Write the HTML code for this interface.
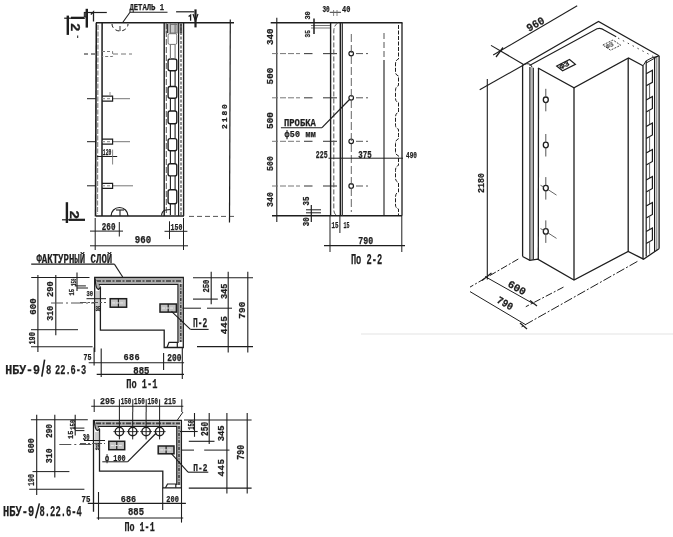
<!DOCTYPE html><html><head><meta charset="utf-8"><style>
html,body{margin:0;padding:0;background:#fff;}
svg{display:block;will-change:transform;}
text{font-family:"Liberation Mono",monospace;fill:#1e1e1e;stroke:#1e1e1e;stroke-width:0.25px;}
</style></head><body>
<svg width="673" height="537" viewBox="0 0 673 537">
<rect width="673" height="537" fill="#fff"/>
<line x1="96" y1="22.8" x2="234" y2="22.8" stroke="#1e1e1e" stroke-width="1.4"/>
<line x1="96.3" y1="22.8" x2="95.5" y2="216.5" stroke="#1e1e1e" stroke-width="1.6"/>
<line x1="98" y1="25" x2="97.5" y2="214" stroke="#888" stroke-width="1.2" stroke-dasharray="5,1.5"/>
<line x1="102.1" y1="22.8" x2="102" y2="216" stroke="#1e1e1e" stroke-width="1.5"/>
<line x1="96" y1="216" x2="184" y2="216" stroke="#1e1e1e" stroke-width="1.4"/>
<line x1="189" y1="216.4" x2="235.3" y2="216.4" stroke="#555" stroke-width="1.0" stroke-dasharray="5,3"/>
<line x1="164.2" y1="23" x2="164.2" y2="216" stroke="#1e1e1e" stroke-width="1.4"/>
<line x1="166.3" y1="23" x2="166.3" y2="216" stroke="#555" stroke-width="1.0" stroke-dasharray="6,2"/>
<line x1="178.6" y1="23" x2="178.6" y2="216" stroke="#1e1e1e" stroke-width="1.2"/>
<line x1="181" y1="23" x2="181" y2="216" stroke="#444" stroke-width="1.2" stroke-dasharray="3,1.5"/>
<line x1="183.6" y1="23" x2="183.6" y2="216" stroke="#1e1e1e" stroke-width="1.4"/>
<rect x="168.1" y="33.7" width="8.7" height="10.699999999999996" rx="1.5" stroke="#777" stroke-width="1.0" fill="none"/>
<rect x="168.1" y="59" width="8.7" height="11.799999999999997" rx="2" stroke="#1e1e1e" stroke-width="1.4" fill="none"/>
<rect x="168.1" y="86.5" width="8.7" height="11.700000000000003" rx="2" stroke="#1e1e1e" stroke-width="1.4" fill="none"/>
<rect x="168.1" y="111" width="8.7" height="12.700000000000003" rx="2" stroke="#1e1e1e" stroke-width="1.4" fill="none"/>
<rect x="168.1" y="138.6" width="8.7" height="12.099999999999994" rx="2" stroke="#1e1e1e" stroke-width="1.4" fill="none"/>
<rect x="168.1" y="163.8" width="8.7" height="12.099999999999994" rx="2" stroke="#1e1e1e" stroke-width="1.4" fill="none"/>
<rect x="168.1" y="189.8" width="8.7" height="14.0" rx="2" stroke="#1e1e1e" stroke-width="1.4" fill="none"/>
<line x1="170.4" y1="23" x2="170.4" y2="33.7" stroke="#777" stroke-width="1.1"/>
<line x1="175.1" y1="23" x2="175.1" y2="33.7" stroke="#777" stroke-width="1.1"/>
<line x1="170.4" y1="44.4" x2="170.4" y2="59" stroke="#777" stroke-width="1.1"/>
<line x1="175.1" y1="44.4" x2="175.1" y2="59" stroke="#777" stroke-width="1.1"/>
<line x1="170.4" y1="70.8" x2="170.4" y2="86.5" stroke="#1e1e1e" stroke-width="1.1"/>
<line x1="175.1" y1="70.8" x2="175.1" y2="86.5" stroke="#1e1e1e" stroke-width="1.1"/>
<line x1="170.4" y1="98.2" x2="170.4" y2="111" stroke="#1e1e1e" stroke-width="1.1"/>
<line x1="175.1" y1="98.2" x2="175.1" y2="111" stroke="#1e1e1e" stroke-width="1.1"/>
<line x1="170.4" y1="123.7" x2="170.4" y2="138.6" stroke="#1e1e1e" stroke-width="1.1"/>
<line x1="175.1" y1="123.7" x2="175.1" y2="138.6" stroke="#1e1e1e" stroke-width="1.1"/>
<line x1="170.4" y1="150.7" x2="170.4" y2="163.8" stroke="#1e1e1e" stroke-width="1.1"/>
<line x1="175.1" y1="150.7" x2="175.1" y2="163.8" stroke="#1e1e1e" stroke-width="1.1"/>
<line x1="170.4" y1="175.9" x2="170.4" y2="189.8" stroke="#1e1e1e" stroke-width="1.1"/>
<line x1="175.1" y1="175.9" x2="175.1" y2="189.8" stroke="#1e1e1e" stroke-width="1.1"/>
<line x1="170.4" y1="203.8" x2="170.4" y2="215" stroke="#1e1e1e" stroke-width="1.1"/>
<line x1="175.1" y1="203.8" x2="175.1" y2="215" stroke="#1e1e1e" stroke-width="1.1"/>
<rect x="170.3" y="24.5" width="6.8" height="8.5" stroke="#777" stroke-width="0.9" fill="none"/>
<rect x="164.5" y="23.5" width="18" height="10" fill="#666" opacity="0.35"/>
<line x1="167.5" y1="24" x2="167.5" y2="33" stroke="#333" stroke-width="1.4"/>
<line x1="181" y1="24" x2="181" y2="33" stroke="#333" stroke-width="1.4"/>
<line x1="84" y1="54" x2="96" y2="54" stroke="#1e1e1e" stroke-width="1.0" stroke-dasharray="4,3"/>
<line x1="113" y1="54" x2="132" y2="54" stroke="#777" stroke-width="1.0" stroke-dasharray="5,3"/>
<path d="M102,51.5 H112.6 V56.5 H102" stroke="#777" stroke-width="1.0" fill="none" stroke-dasharray="3,2"/>
<line x1="87" y1="98.7" x2="96" y2="98.7" stroke="#1e1e1e" stroke-width="1.0"/>
<line x1="113" y1="98.7" x2="130" y2="98.7" stroke="#777" stroke-width="1.0"/>
<path d="M102,96.2 H112.6 V101.2 H102" stroke="#1e1e1e" stroke-width="1.2" fill="none"/>
<line x1="102" y1="98.7" x2="110" y2="98.7" stroke="#777" stroke-width="0.9" stroke-dasharray="3,2"/>
<line x1="87" y1="141.7" x2="96" y2="141.7" stroke="#1e1e1e" stroke-width="1.0"/>
<line x1="113" y1="141.7" x2="130" y2="141.7" stroke="#777" stroke-width="1.0"/>
<path d="M102,139.2 H112.6 V144.2 H102" stroke="#1e1e1e" stroke-width="1.2" fill="none"/>
<line x1="102" y1="141.7" x2="110" y2="141.7" stroke="#777" stroke-width="0.9" stroke-dasharray="3,2"/>
<line x1="87" y1="185.8" x2="96" y2="185.8" stroke="#1e1e1e" stroke-width="1.0"/>
<line x1="113" y1="185.8" x2="133" y2="185.8" stroke="#777" stroke-width="1.0"/>
<path d="M102,183.3 H112.6 V188.3 H102" stroke="#1e1e1e" stroke-width="1.2" fill="none"/>
<line x1="102" y1="185.8" x2="110" y2="185.8" stroke="#777" stroke-width="0.9" stroke-dasharray="3,2"/>
<line x1="110" y1="92" x2="110" y2="95" stroke="#777" stroke-width="0.8"/>
<text x="102.8" y="154.8" font-size="8.68" textLength="8.50" lengthAdjust="spacingAndGlyphs" font-weight="bold">120</text>
<line x1="97" y1="156.5" x2="117.2" y2="156.5" stroke="#1e1e1e" stroke-width="1.0"/>
<line x1="112.6" y1="149.6" x2="112.6" y2="164.5" stroke="#777" stroke-width="0.9"/>
<path d="M112,24 A8,7 0 0 0 128,24" stroke="#1e1e1e" stroke-width="1.0" fill="none" stroke-dasharray="4,3"/>
<line x1="120" y1="26" x2="120" y2="31" stroke="#1e1e1e" stroke-width="0.9"/>
<path d="M111,216 A8.5,8.5 0 0 1 128,216" stroke="#1e1e1e" stroke-width="1.2" fill="none"/>
<line x1="116" y1="210" x2="124" y2="210" stroke="#1e1e1e" stroke-width="1.1"/>
<line x1="120" y1="210" x2="120" y2="216" stroke="#1e1e1e" stroke-width="1.1"/>
<path d="M161.5,215.5 Q162,210.5 166,210 L170.4,209.5" stroke="#1e1e1e" stroke-width="1.1" fill="none"/>
<text x="129.4" y="10.3" font-size="8.53" textLength="34.70" lengthAdjust="spacingAndGlyphs" font-weight="bold">ДЕТАЛЬ 1</text>
<line x1="130" y1="12.3" x2="167.5" y2="12.3" stroke="#1e1e1e" stroke-width="1.1"/>
<line x1="122.7" y1="22.5" x2="130" y2="12.3" stroke="#1e1e1e" stroke-width="1.1"/>
<line x1="86.8" y1="8.8" x2="86.8" y2="27.6" stroke="#1e1e1e" stroke-width="2.4"/>
<line x1="84" y1="12.5" x2="106.8" y2="12.5" stroke="#1e1e1e" stroke-width="1.2"/>
<rect x="84.2" y="12.5" width="2.6" height="4.5" stroke="#1e1e1e" stroke-width="0.8" fill="#444"/>
<path d="M90.8,14.5 L93.5,11.8 L93.5,21.4" stroke="#1e1e1e" stroke-width="1.3" fill="none"/>
<line x1="176.1" y1="11.8" x2="194.2" y2="11.8" stroke="#1e1e1e" stroke-width="1.2"/>
<line x1="195.5" y1="9.4" x2="195.5" y2="27.4" stroke="#1e1e1e" stroke-width="2.2"/>
<path d="M188.6,16.5 L190.6,15 L190.6,20.8" stroke="#1e1e1e" stroke-width="1.3" fill="none"/>
<path d="M193,14 L195.5,21 L198,14" stroke="#1e1e1e" stroke-width="1.2" fill="none"/>
<line x1="67.8" y1="15.6" x2="67.8" y2="34.9" stroke="#1e1e1e" stroke-width="2.4"/>
<line x1="64.2" y1="18.2" x2="85" y2="18.2" stroke="#1e1e1e" stroke-width="1.2"/>
<line x1="71" y1="17.8" x2="84" y2="17.8" stroke="#1e1e1e" stroke-width="2.2"/>
<text transform="translate(70.5,23) rotate(90)" font-size="13" font-weight="bold" textLength="8.5" lengthAdjust="spacingAndGlyphs">2</text>
<line x1="77.7" y1="35.5" x2="77.7" y2="38" stroke="#1e1e1e" stroke-width="1.0"/>
<line x1="66.9" y1="202.2" x2="66.9" y2="223" stroke="#1e1e1e" stroke-width="2.4"/>
<line x1="62" y1="219.8" x2="84.8" y2="219.8" stroke="#1e1e1e" stroke-width="1.2"/>
<line x1="69" y1="219.8" x2="85" y2="219.8" stroke="#1e1e1e" stroke-width="2.2"/>
<text transform="translate(69.5,210.3) rotate(90)" font-size="13" font-weight="bold" textLength="9" lengthAdjust="spacingAndGlyphs">2</text>
<line x1="230.3" y1="19.5" x2="229.5" y2="222.4" stroke="#1e1e1e" stroke-width="1.2"/>
<text transform="translate(226.6,128.9) rotate(-90)" x="0" y="0" font-size="7.94" textLength="24.70" lengthAdjust="spacing" font-weight="bold">2180</text>
<line x1="95.2" y1="218" x2="95.2" y2="250" stroke="#1e1e1e" stroke-width="1.0"/>
<line x1="119.3" y1="222" x2="119.3" y2="236.5" stroke="#1e1e1e" stroke-width="1.0"/>
<line x1="169.5" y1="221.3" x2="169.5" y2="239.1" stroke="#1e1e1e" stroke-width="1.0"/>
<line x1="183.5" y1="218" x2="183.5" y2="250" stroke="#1e1e1e" stroke-width="1.0"/>
<line x1="90" y1="231.1" x2="123" y2="231.1" stroke="#1e1e1e" stroke-width="1.0"/>
<line x1="164.5" y1="231.3" x2="187.4" y2="231.3" stroke="#1e1e1e" stroke-width="1.0"/>
<line x1="90" y1="245.8" x2="188" y2="245.8" stroke="#1e1e1e" stroke-width="1.0"/>
<text x="101.8" y="230" font-size="10.44" textLength="13.70" lengthAdjust="spacingAndGlyphs" font-weight="bold">260</text>
<text x="170.6" y="229.6" font-size="8.97" textLength="11.80" lengthAdjust="spacingAndGlyphs" font-weight="bold">150</text>
<text x="134.8" y="242.5" font-size="10.88" textLength="16.40" lengthAdjust="spacingAndGlyphs" font-weight="bold">960</text>
<line x1="270.7" y1="22.8" x2="402.5" y2="22.8" stroke="#1e1e1e" stroke-width="1.4"/>
<line x1="276.8" y1="17.8" x2="276.8" y2="222" stroke="#1e1e1e" stroke-width="1.1"/>
<line x1="272" y1="215.8" x2="402" y2="215.8" stroke="#1e1e1e" stroke-width="1.4"/>
<text transform="translate(272.5,45) rotate(-90)" x="0" y="0" font-size="9.56" textLength="16.50" lengthAdjust="spacingAndGlyphs" font-weight="bold">340</text>
<text transform="translate(272.5,84.4) rotate(-90)" x="0" y="0" font-size="9.56" textLength="16.60" lengthAdjust="spacingAndGlyphs" font-weight="bold">500</text>
<text transform="translate(272.5,129) rotate(-90)" x="0" y="0" font-size="9.56" textLength="17.00" lengthAdjust="spacingAndGlyphs" font-weight="bold">500</text>
<text transform="translate(272.5,171) rotate(-90)" x="0" y="0" font-size="9.56" textLength="15.00" lengthAdjust="spacingAndGlyphs" font-weight="bold">500</text>
<text transform="translate(272.5,207) rotate(-90)" x="0" y="0" font-size="9.56" textLength="15.00" lengthAdjust="spacingAndGlyphs" font-weight="bold">340</text>
<line x1="272" y1="53.6" x2="300" y2="53.6" stroke="#777" stroke-width="1.0" stroke-dasharray="6,2"/>
<line x1="304" y1="53.6" x2="312.5" y2="53.6" stroke="#444" stroke-width="1.1"/>
<line x1="323" y1="53.6" x2="337" y2="53.6" stroke="#444" stroke-width="1.1"/>
<line x1="356" y1="53.6" x2="368" y2="53.6" stroke="#555" stroke-width="1.0" stroke-dasharray="7,3"/>
<circle cx="351.2" cy="53.6" r="2.3" stroke="#1e1e1e" stroke-width="1.2" fill="none"/>
<line x1="272" y1="97.8" x2="300" y2="97.8" stroke="#777" stroke-width="1.0" stroke-dasharray="6,2"/>
<line x1="304" y1="97.8" x2="312.5" y2="97.8" stroke="#444" stroke-width="1.1"/>
<line x1="323" y1="97.8" x2="337" y2="97.8" stroke="#444" stroke-width="1.1"/>
<line x1="356" y1="97.8" x2="368" y2="97.8" stroke="#555" stroke-width="1.0" stroke-dasharray="7,3"/>
<circle cx="351.2" cy="97.8" r="2.3" stroke="#1e1e1e" stroke-width="1.2" fill="none"/>
<line x1="272" y1="141.3" x2="300" y2="141.3" stroke="#777" stroke-width="1.0" stroke-dasharray="6,2"/>
<line x1="304" y1="141.3" x2="312.5" y2="141.3" stroke="#444" stroke-width="1.1"/>
<line x1="323" y1="141.3" x2="337" y2="141.3" stroke="#444" stroke-width="1.1"/>
<line x1="356" y1="141.3" x2="368" y2="141.3" stroke="#555" stroke-width="1.0" stroke-dasharray="7,3"/>
<circle cx="351.2" cy="141.3" r="2.3" stroke="#1e1e1e" stroke-width="1.2" fill="none"/>
<line x1="272" y1="186" x2="300" y2="186" stroke="#777" stroke-width="1.0" stroke-dasharray="6,2"/>
<line x1="304" y1="186" x2="312.5" y2="186" stroke="#444" stroke-width="1.1"/>
<line x1="323" y1="186" x2="337" y2="186" stroke="#444" stroke-width="1.1"/>
<line x1="356" y1="186" x2="368" y2="186" stroke="#555" stroke-width="1.0" stroke-dasharray="7,3"/>
<circle cx="351.2" cy="186" r="2.3" stroke="#1e1e1e" stroke-width="1.2" fill="none"/>
<line x1="351.3" y1="34" x2="351.3" y2="212" stroke="#555" stroke-width="0.9" stroke-dasharray="8,3"/>
<line x1="330.6" y1="22.8" x2="330.6" y2="215.8" stroke="#1e1e1e" stroke-width="1.4"/>
<path d="M338,22.8 Q334,25 333.8,31 L333.8,210 Q334,215 338,215.8" stroke="#555" stroke-width="1.0" fill="none" stroke-dasharray="5,2"/>
<line x1="340.4" y1="22.8" x2="340.4" y2="215.8" stroke="#1e1e1e" stroke-width="1.6"/>
<line x1="342.4" y1="22.8" x2="342.4" y2="215.8" stroke="#333" stroke-width="1.1"/>
<line x1="384" y1="33" x2="384" y2="60" stroke="#555" stroke-width="1.0" stroke-dasharray="6,3"/>
<line x1="384" y1="60" x2="384" y2="215.8" stroke="#1e1e1e" stroke-width="1.1"/>
<path d="M398.5,25 L398.5,56 L398.5,59.0 Q395.5,60.0 395.5,64.0 L395.5,72.0 Q395.5,75.0 398.5,76.0 L398.5,82.6 L398.5,85.6 Q395.5,86.6 395.5,90.6 L395.5,98.6 Q395.5,101.6 398.5,102.6 L398.5,109.2 L398.5,112.2 Q395.5,113.2 395.5,117.2 L395.5,125.2 Q395.5,128.2 398.5,129.2 L398.5,135.8 L398.5,138.8 Q395.5,139.8 395.5,143.8 L395.5,151.8 Q395.5,154.8 398.5,155.8 L398.5,162.4 L398.5,165.4 Q395.5,166.4 395.5,170.4 L395.5,178.4 Q395.5,181.4 398.5,182.4 L398.5,189.0 L398.5,192.0 Q395.5,193.0 395.5,197.0 L395.5,205.0 Q395.5,208.0 398.5,209.0 L398.5,215.6" stroke="#1e1e1e" stroke-width="1.0" fill="none" stroke-dasharray="4,1.5"/>
<line x1="402" y1="22.8" x2="402" y2="215.8" stroke="#1e1e1e" stroke-width="1.3"/>
<text transform="translate(309.5,19.6) rotate(-90)" x="0" y="0" font-size="7.35" textLength="8.40" lengthAdjust="spacingAndGlyphs" font-weight="bold">30</text>
<text transform="translate(309.5,37.5) rotate(-90)" x="0" y="0" font-size="7.35" textLength="7.30" lengthAdjust="spacingAndGlyphs" font-weight="bold">35</text>
<line x1="311" y1="25.5" x2="330" y2="25.5" stroke="#666" stroke-width="0.9"/>
<line x1="311" y1="28" x2="330" y2="28" stroke="#666" stroke-width="0.9"/>
<line x1="314" y1="18.5" x2="314" y2="34.1" stroke="#1e1e1e" stroke-width="1.5"/>
<text x="322.4" y="11.8" font-size="8.53" textLength="7.30" lengthAdjust="spacingAndGlyphs" font-weight="bold">30</text>
<text x="342" y="11.8" font-size="8.53" textLength="8.40" lengthAdjust="spacingAndGlyphs" font-weight="bold">40</text>
<line x1="329.7" y1="12.3" x2="341" y2="12.3" stroke="#1e1e1e" stroke-width="0.9"/>
<line x1="333.6" y1="10" x2="333.6" y2="16" stroke="#666" stroke-width="0.8"/>
<line x1="337" y1="10" x2="337" y2="16" stroke="#666" stroke-width="0.8"/>
<text x="284" y="125.6" font-size="11.47" textLength="31.80" lengthAdjust="spacingAndGlyphs" font-weight="bold">ПРОБКА</text>
<line x1="280.9" y1="127.7" x2="322" y2="127.7" stroke="#1e1e1e" stroke-width="1.1"/>
<line x1="322" y1="127.7" x2="349.5" y2="99.5" stroke="#1e1e1e" stroke-width="1.2"/>
<text x="284.6" y="137" font-size="8.38" textLength="31.20" lengthAdjust="spacing" font-weight="bold">ф50 мм</text>
<text x="315.8" y="157.8" font-size="11.47" textLength="11.90" lengthAdjust="spacingAndGlyphs" font-weight="bold">225</text>
<line x1="328.5" y1="158.2" x2="403" y2="158.2" stroke="#1e1e1e" stroke-width="1.0"/>
<text x="358.3" y="157.7" font-size="11.03" textLength="13.40" lengthAdjust="spacingAndGlyphs" font-weight="bold">375</text>
<text x="406" y="157.5" font-size="9.56" textLength="11.00" lengthAdjust="spacingAndGlyphs" font-weight="bold">490</text>
<text transform="translate(309,205.4) rotate(-90)" x="0" y="0" font-size="8.82" textLength="9.00" lengthAdjust="spacingAndGlyphs" font-weight="bold">35</text>
<text transform="translate(309,226.2) rotate(-90)" x="0" y="0" font-size="8.82" textLength="8.90" lengthAdjust="spacingAndGlyphs" font-weight="bold">30</text>
<line x1="306" y1="209.8" x2="321" y2="209.8" stroke="#1e1e1e" stroke-width="1.0"/>
<line x1="306" y1="212.8" x2="321" y2="212.8" stroke="#1e1e1e" stroke-width="1.0"/>
<line x1="311.3" y1="205" x2="311.3" y2="222" stroke="#1e1e1e" stroke-width="1.2"/>
<line x1="330" y1="215.8" x2="330" y2="233" stroke="#1e1e1e" stroke-width="1.0"/>
<line x1="339.9" y1="215.8" x2="339.9" y2="233" stroke="#1e1e1e" stroke-width="1.0"/>
<text x="331.5" y="227.7" font-size="8.82" textLength="7.00" lengthAdjust="spacingAndGlyphs" font-weight="bold">15</text>
<text x="343.4" y="227.7" font-size="8.82" textLength="6.00" lengthAdjust="spacingAndGlyphs" font-weight="bold">15</text>
<text x="358.3" y="243.5" font-size="10.15" textLength="14.90" lengthAdjust="spacingAndGlyphs" font-weight="bold">790</text>
<line x1="324" y1="245.6" x2="405" y2="245.6" stroke="#1e1e1e" stroke-width="1.1"/>
<line x1="330" y1="233" x2="330" y2="252" stroke="#1e1e1e" stroke-width="1.0"/>
<line x1="401.8" y1="215.8" x2="401.8" y2="252" stroke="#1e1e1e" stroke-width="1.0"/>
<text x="350.9" y="263.5" font-size="14.71" textLength="31.30" lengthAdjust="spacingAndGlyphs" font-weight="bold">По 2-2</text>
<line x1="493.2" y1="55" x2="577.2" y2="5.8" stroke="#1e1e1e" stroke-width="1.1"/>
<line x1="491" y1="45.4" x2="524" y2="64.7" stroke="#1e1e1e" stroke-width="1.1"/>
<line x1="496" y1="57" x2="503" y2="47.5" stroke="#1e1e1e" stroke-width="1.3"/>
<text transform="translate(529,32) rotate(-30)" font-size="11" font-weight="bold" textLength="19" lengthAdjust="spacingAndGlyphs">960</text>
<line x1="479.7" y1="89.8" x2="524" y2="64.7" stroke="#1e1e1e" stroke-width="1.1"/>
<line x1="487.3" y1="79" x2="487.3" y2="279.5" stroke="#1e1e1e" stroke-width="1.1"/>
<line x1="482" y1="280.5" x2="491.5" y2="273" stroke="#1e1e1e" stroke-width="1.3"/>
<text transform="translate(483.5,193) rotate(-90)" x="0" y="0" font-size="9.56" textLength="20.00" lengthAdjust="spacingAndGlyphs" font-weight="bold">2180</text>
<path d="M524,64.5 L598.5,21.5 L659,55.8" stroke="#1e1e1e" stroke-width="1.3" fill="none"/>
<path d="M529.5,65.5 L597,28.8 Q601,27.5 604,30 L616.2,36.8" stroke="#1e1e1e" stroke-width="1.1" fill="none"/>
<line x1="618" y1="38" x2="656" y2="58" stroke="#444" stroke-width="1.0" stroke-dasharray="1.5,4"/>
<path d="M524,64.5 Q530,62 532,67" stroke="#1e1e1e" stroke-width="1.0" fill="none"/>
<path d="M538,68 L574,87.8 L628.5,58 L643,65.8" stroke="#1e1e1e" stroke-width="1.3" fill="none"/>
<path d="M646.2,63 L658.5,56" stroke="#1e1e1e" stroke-width="1.0" fill="none"/>
<path d="M556.7,66 L569.5,59.5 L575.4,64.3 L562.6,70.7 Z" stroke="#1e1e1e" stroke-width="1.2" fill="none"/>
<text transform="translate(561,69.5) rotate(-27)" font-size="7.5" font-weight="bold" textLength="10" lengthAdjust="spacingAndGlyphs">ФЗ</text>
<path d="M602.8,45 L613,40 L620.7,45.2 L610.5,50.2 Z" stroke="#444" stroke-width="1.0" fill="none" stroke-dasharray="2,1.2"/>
<text transform="translate(607,49) rotate(-27)" font-size="6.5" font-weight="bold" textLength="8" lengthAdjust="spacingAndGlyphs" opacity="0.7">ФЗ</text>
<line x1="522.6" y1="64.5" x2="522.6" y2="256.5" stroke="#1e1e1e" stroke-width="1.3"/>
<rect x="529.8" y="67" width="3.8" height="193" fill="#888" opacity="0.6"/>
<line x1="529.8" y1="67" x2="529.8" y2="260.4" stroke="#333" stroke-width="1.1"/>
<line x1="533.4" y1="68" x2="533.4" y2="259.5" stroke="#333" stroke-width="1.1"/>
<line x1="538.5" y1="68" x2="538.3" y2="259.1" stroke="#1e1e1e" stroke-width="1.3"/>
<line x1="574" y1="87.8" x2="574" y2="280" stroke="#1e1e1e" stroke-width="1.3"/>
<line x1="628.2" y1="58" x2="628.2" y2="251.4" stroke="#1e1e1e" stroke-width="1.3"/>
<line x1="643" y1="65.8" x2="643" y2="259.2" stroke="#1e1e1e" stroke-width="1.3"/>
<line x1="646.2" y1="60.8" x2="646.2" y2="256.5" stroke="#1e1e1e" stroke-width="1.2"/>
<line x1="654.6" y1="57" x2="654.6" y2="252" stroke="#1e1e1e" stroke-width="1.2"/>
<line x1="656.8" y1="56.5" x2="656.8" y2="250.5" stroke="#666" stroke-width="0.9"/>
<line x1="659.1" y1="55.8" x2="659.1" y2="248.8" stroke="#1e1e1e" stroke-width="1.3"/>
<path d="M643,65.8 L646.2,60.8 L652,57.8 L659.1,55.8" stroke="#1e1e1e" stroke-width="1.0" fill="none"/>
<path d="M646.2,73.8 L652.4,70.3 L652.4,82.3 L646.2,85.8" stroke="#1e1e1e" stroke-width="1.2" fill="none"/>
<line x1="649.6" y1="83.8" x2="649.6" y2="98.3" stroke="#555" stroke-width="0.9"/>
<path d="M646.2,100.0 L652.4,96.5 L652.4,108.5 L646.2,112.0" stroke="#1e1e1e" stroke-width="1.2" fill="none"/>
<line x1="649.6" y1="110.0" x2="649.6" y2="124.8" stroke="#555" stroke-width="0.9"/>
<path d="M646.2,126.5 L652.4,123 L652.4,135 L646.2,138.5" stroke="#1e1e1e" stroke-width="1.2" fill="none"/>
<line x1="649.6" y1="136.5" x2="649.6" y2="151.3" stroke="#555" stroke-width="0.9"/>
<path d="M646.2,153.0 L652.4,149.5 L652.4,161.5 L646.2,165.0" stroke="#1e1e1e" stroke-width="1.2" fill="none"/>
<line x1="649.6" y1="163.0" x2="649.6" y2="178.3" stroke="#555" stroke-width="0.9"/>
<path d="M646.2,180.0 L652.4,176.5 L652.4,188.5 L646.2,192.0" stroke="#1e1e1e" stroke-width="1.2" fill="none"/>
<line x1="649.6" y1="190.0" x2="649.6" y2="204.3" stroke="#555" stroke-width="0.9"/>
<path d="M646.2,206.0 L652.4,202.5 L652.4,214.5 L646.2,218.0" stroke="#1e1e1e" stroke-width="1.2" fill="none"/>
<line x1="649.6" y1="216.0" x2="649.6" y2="229.8" stroke="#555" stroke-width="0.9"/>
<path d="M646.2,231.5 L652.4,228 L652.4,240 L646.2,243.5" stroke="#1e1e1e" stroke-width="1.2" fill="none"/>
<line x1="649.6" y1="241.5" x2="649.6" y2="253.8" stroke="#555" stroke-width="0.9"/>
<path d="M522.6,256.5 L529.8,260.4 L537.8,259.1 L574,280 L628.2,251.4 L643.5,259.2 L659,248.8" stroke="#1e1e1e" stroke-width="1.3" fill="none"/>
<ellipse cx="545.8" cy="99.8" rx="2.5" ry="2.8" stroke="#1e1e1e" stroke-width="1.3" fill="none"/>
<line x1="545.8" y1="88.8" x2="545.8" y2="97.0" stroke="#555" stroke-width="1.0"/>
<line x1="545.8" y1="102.6" x2="545.8" y2="111.3" stroke="#555" stroke-width="1.0"/>
<ellipse cx="545.8" cy="145" rx="2.5" ry="2.8" stroke="#1e1e1e" stroke-width="1.3" fill="none"/>
<line x1="545.8" y1="134" x2="545.8" y2="142.2" stroke="#555" stroke-width="1.0"/>
<line x1="545.8" y1="147.8" x2="545.8" y2="156.5" stroke="#555" stroke-width="1.0"/>
<ellipse cx="545.8" cy="188.1" rx="2.5" ry="2.8" stroke="#1e1e1e" stroke-width="1.3" fill="none"/>
<line x1="545.8" y1="177.1" x2="545.8" y2="185.29999999999998" stroke="#555" stroke-width="1.0"/>
<line x1="545.8" y1="190.9" x2="545.8" y2="199.6" stroke="#555" stroke-width="1.0"/>
<line x1="540.5" y1="185.29999999999998" x2="543.5" y2="186.9" stroke="#555" stroke-width="0.9"/>
<line x1="548" y1="189.6" x2="556.5" y2="195.1" stroke="#555" stroke-width="0.9"/>
<ellipse cx="545.8" cy="231.4" rx="2.5" ry="2.8" stroke="#1e1e1e" stroke-width="1.3" fill="none"/>
<line x1="545.8" y1="220.4" x2="545.8" y2="228.6" stroke="#555" stroke-width="1.0"/>
<line x1="545.8" y1="234.20000000000002" x2="545.8" y2="242.9" stroke="#555" stroke-width="1.0"/>
<line x1="540.5" y1="228.6" x2="543.5" y2="230.20000000000002" stroke="#555" stroke-width="0.9"/>
<line x1="548" y1="232.9" x2="556.5" y2="238.4" stroke="#555" stroke-width="0.9"/>
<line x1="518.3" y1="259" x2="470" y2="287.1" stroke="#1e1e1e" stroke-width="1.0" stroke-dasharray="7,2,2,2"/>
<line x1="485" y1="276.5" x2="533.3" y2="303.7" stroke="#1e1e1e" stroke-width="1.0"/>
<text transform="translate(507,286) rotate(30)" font-size="10.5" font-weight="bold" textLength="19" lengthAdjust="spacingAndGlyphs">600</text>
<line x1="563.5" y1="287.1" x2="525.8" y2="306.7" stroke="#1e1e1e" stroke-width="1.0" stroke-dasharray="7,2,2,2"/>
<line x1="530" y1="300.5" x2="537" y2="306" stroke="#1e1e1e" stroke-width="1.3"/>
<line x1="470" y1="291.6" x2="525.8" y2="324.8" stroke="#1e1e1e" stroke-width="1.0"/>
<text transform="translate(496,302) rotate(30)" font-size="10.5" font-weight="bold" textLength="17" lengthAdjust="spacingAndGlyphs">790</text>
<line x1="637.4" y1="261.4" x2="519.8" y2="327.8" stroke="#1e1e1e" stroke-width="1.0" stroke-dasharray="9,2,2,2"/>
<line x1="520" y1="323" x2="527" y2="329" stroke="#1e1e1e" stroke-width="1.3"/>
<line x1="361" y1="334" x2="673" y2="334" stroke="#bbb" stroke-width="0.8" opacity="0.5"/>
<text x="36.4" y="262.5" font-size="12.50" textLength="75.90" lengthAdjust="spacingAndGlyphs" font-weight="bold">ФАКТУРНЫЙ СЛОЙ</text>
<line x1="31.2" y1="264.1" x2="114.4" y2="264.1" stroke="#1e1e1e" stroke-width="1.1"/>
<line x1="114.4" y1="264.1" x2="122.7" y2="277" stroke="#1e1e1e" stroke-width="1.1"/>
<rect x="96" y="278.5" width="86" height="5.0" fill="#777" opacity="0.6"/>
<line x1="96" y1="281.0" x2="182" y2="281.0" stroke="#222" stroke-width="1.6" stroke-dasharray="5,1.5,2,1.5" opacity="0.8"/>
<rect x="179" y="284" width="3.5" height="58" fill="#777" opacity="0.6"/>
<line x1="180.75" y1="284" x2="180.75" y2="342" stroke="#222" stroke-width="1.5" stroke-dasharray="3,1.5,1,1.5" opacity="0.8"/>
<path d="M94.7,352 L94.7,277.5 L183.3,277.5 L183.3,347.5 L164.2,347.5 L164.2,330.1 L100.4,330.1 L100.4,287.3 L97.5,284.3 L100.4,284.3 L178,284.3 L178,343" stroke="#1e1e1e" stroke-width="1.3" fill="none"/>
<path d="M95.2,278.5 Q95.5,289 98.5,289.5 L100.4,287.3" stroke="#1e1e1e" stroke-width="1.2" fill="#aaa"/>
<rect x="95.5" y="291" width="4.5" height="20" fill="#999" opacity="0.5"/>
<path d="M167,347.5 L169,342.4 L177.3,342.4 L177.3,347.5" stroke="#1e1e1e" stroke-width="1.2" fill="none"/>
<line x1="37.9" y1="275" x2="37.9" y2="352" stroke="#1e1e1e" stroke-width="1.1"/>
<line x1="55.8" y1="275" x2="55.8" y2="335.3" stroke="#1e1e1e" stroke-width="1.1"/>
<line x1="31.2" y1="277.5" x2="89.5" y2="277.5" stroke="#1e1e1e" stroke-width="1.1"/>
<line x1="31" y1="329.7" x2="78" y2="329.7" stroke="#1e1e1e" stroke-width="1.0"/>
<line x1="31" y1="346.7" x2="92.6" y2="346.7" stroke="#1e1e1e" stroke-width="1.1"/>
<line x1="51" y1="303" x2="94" y2="303" stroke="#555" stroke-width="1.0" stroke-dasharray="12,3,2,3"/>
<text transform="translate(36.2,314.8) rotate(-90)" x="0" y="0" font-size="9.85" textLength="16.40" lengthAdjust="spacingAndGlyphs" font-weight="bold">600</text>
<text transform="translate(52.6,296.9) rotate(-90)" x="0" y="0" font-size="8.82" textLength="15.70" lengthAdjust="spacingAndGlyphs" font-weight="bold">290</text>
<text transform="translate(52.6,320.7) rotate(-90)" x="0" y="0" font-size="8.82" textLength="14.90" lengthAdjust="spacingAndGlyphs" font-weight="bold">310</text>
<text transform="translate(35.4,344.6) rotate(-90)" x="0" y="0" font-size="9.85" textLength="12.60" lengthAdjust="spacingAndGlyphs" font-weight="bold">190</text>
<line x1="77" y1="272.5" x2="77" y2="291.1" stroke="#1e1e1e" stroke-width="1.1"/>
<line x1="74.8" y1="285.9" x2="85.9" y2="285.9" stroke="#1e1e1e" stroke-width="1.0"/>
<line x1="77" y1="288" x2="88" y2="288" stroke="#1e1e1e" stroke-width="1.0"/>
<text transform="translate(74,295.5) rotate(-90)" x="0" y="0" font-size="6.47" textLength="6.60" lengthAdjust="spacingAndGlyphs" font-weight="bold">15</text>
<text transform="translate(76.3,285.9) rotate(-90)" x="0" y="0" font-size="7.79" textLength="7.40" lengthAdjust="spacingAndGlyphs" font-weight="bold">150</text>
<text x="86.5" y="296.1" font-size="7.65" textLength="6.50" lengthAdjust="spacingAndGlyphs" font-weight="bold">30</text>
<text x="95.5" y="310.8" font-size="8.09" textLength="4.90" lengthAdjust="spacingAndGlyphs" font-weight="bold">35</text>
<line x1="86.5" y1="298.7" x2="106" y2="298.7" stroke="#1e1e1e" stroke-width="1.0"/>
<line x1="80" y1="302.5" x2="106" y2="302.5" stroke="#555" stroke-width="1.0" stroke-dasharray="6,2,2,2"/>
<rect x="110.2" y="298.7" width="16.4" height="8.5" fill="#777" opacity="0.45"/>
<rect x="110.2" y="298.7" width="16.4" height="8.5" stroke="#1e1e1e" stroke-width="1.5" fill="none"/>
<line x1="118.4" y1="298.7" x2="118.4" y2="307.2" stroke="#1e1e1e" stroke-width="1.2"/>
<line x1="112.2" y1="302.95" x2="124.6" y2="302.95" stroke="#eee" stroke-width="0.9" stroke-dasharray="3,1"/>
<rect x="160" y="304" width="16.4" height="8.1" fill="#777" opacity="0.45"/>
<rect x="160" y="304" width="16.4" height="8.1" stroke="#1e1e1e" stroke-width="1.5" fill="none"/>
<line x1="168.2" y1="304" x2="168.2" y2="312.1" stroke="#1e1e1e" stroke-width="1.2"/>
<line x1="162" y1="308.05" x2="174.4" y2="308.05" stroke="#eee" stroke-width="0.9" stroke-dasharray="3,1"/>
<line x1="171.5" y1="311.3" x2="190.4" y2="329.4" stroke="#1e1e1e" stroke-width="1.1"/>
<line x1="190.4" y1="329.4" x2="208.6" y2="329.4" stroke="#1e1e1e" stroke-width="1.1"/>
<text x="193" y="326.5" font-size="13.38" textLength="14.30" lengthAdjust="spacingAndGlyphs" font-weight="bold">П-2</text>
<line x1="193" y1="277.7" x2="253" y2="277.7" stroke="#1e1e1e" stroke-width="1.1"/>
<line x1="193" y1="299.1" x2="217.8" y2="299.1" stroke="#1e1e1e" stroke-width="1.1"/>
<line x1="182.6" y1="308.2" x2="201" y2="308.2" stroke="#1e1e1e" stroke-width="1.0"/>
<line x1="207" y1="308.2" x2="232" y2="308.2" stroke="#1e1e1e" stroke-width="1.0"/>
<line x1="197" y1="346.6" x2="253" y2="346.6" stroke="#1e1e1e" stroke-width="1.1"/>
<line x1="211.2" y1="271.7" x2="211.2" y2="304.3" stroke="#1e1e1e" stroke-width="1.1"/>
<line x1="228.2" y1="271.7" x2="228.2" y2="352.6" stroke="#1e1e1e" stroke-width="1.1"/>
<line x1="247.8" y1="271.7" x2="247.8" y2="352.6" stroke="#1e1e1e" stroke-width="1.1"/>
<text transform="translate(208.6,292.6) rotate(-90)" x="0" y="0" font-size="9.71" textLength="13.00" lengthAdjust="spacingAndGlyphs" font-weight="bold">250</text>
<text transform="translate(226.9,299.1) rotate(-90)" x="0" y="0" font-size="9.56" textLength="15.60" lengthAdjust="spacingAndGlyphs" font-weight="bold">345</text>
<text transform="translate(226.9,334.3) rotate(-90)" x="0" y="0" font-size="9.56" textLength="18.30" lengthAdjust="spacing" font-weight="bold">445</text>
<text transform="translate(245.1,318.7) rotate(-90)" x="0" y="0" font-size="9.56" textLength="17.00" lengthAdjust="spacingAndGlyphs" font-weight="bold">790</text>
<text x="83.4" y="360.2" font-size="9.26" textLength="8.00" lengthAdjust="spacingAndGlyphs" font-weight="bold">75</text>
<text x="123.5" y="360.4" font-size="8.53" textLength="16.00" lengthAdjust="spacing" font-weight="bold">686</text>
<text x="167.2" y="361" font-size="10.44" textLength="14.20" lengthAdjust="spacingAndGlyphs" font-weight="bold">200</text>
<line x1="88.7" y1="362.8" x2="184.1" y2="362.8" stroke="#1e1e1e" stroke-width="1.1"/>
<line x1="101.2" y1="348.6" x2="101.2" y2="377.1" stroke="#1e1e1e" stroke-width="1.1"/>
<line x1="94.1" y1="347.4" x2="94.1" y2="365.5" stroke="#1e1e1e" stroke-width="1.1"/>
<line x1="163.6" y1="353" x2="163.6" y2="370" stroke="#1e1e1e" stroke-width="1.1"/>
<line x1="182.3" y1="347.4" x2="182.3" y2="378.9" stroke="#1e1e1e" stroke-width="1.1"/>
<text x="133.3" y="373.5" font-size="10.44" textLength="16.10" lengthAdjust="spacingAndGlyphs" font-weight="bold">885</text>
<line x1="96.7" y1="374.4" x2="184" y2="374.4" stroke="#1e1e1e" stroke-width="1.1"/>
<text x="126.2" y="387.8" font-size="13.09" textLength="31.20" lengthAdjust="spacingAndGlyphs" font-weight="bold">По 1-1</text>
<text x="5.2" y="373.8" font-size="13.09" textLength="34.90" lengthAdjust="spacingAndGlyphs" font-weight="bold">НБУ-9</text>
<text x="46" y="373.8" font-size="13.09" textLength="5.30" lengthAdjust="spacingAndGlyphs" font-weight="bold">8</text>
<text x="55" y="373.8" font-size="13.09" textLength="31.20" lengthAdjust="spacingAndGlyphs" font-weight="bold">22.6-3</text>
<line x1="44.6" y1="359.7" x2="41.8" y2="376.7" stroke="#1e1e1e" stroke-width="1.6"/>
<text x="100.1" y="403.8" font-size="9.12" textLength="14.90" lengthAdjust="spacingAndGlyphs" font-weight="bold">295</text>
<text x="120.8" y="403.8" font-size="9.12" textLength="10.50" lengthAdjust="spacingAndGlyphs" font-weight="bold">150</text>
<text x="134.1" y="403.8" font-size="9.12" textLength="10.60" lengthAdjust="spacingAndGlyphs" font-weight="bold">150</text>
<text x="147.5" y="403.8" font-size="9.12" textLength="10.50" lengthAdjust="spacingAndGlyphs" font-weight="bold">150</text>
<text x="164" y="403.8" font-size="9.12" textLength="11.90" lengthAdjust="spacingAndGlyphs" font-weight="bold">215</text>
<line x1="91.2" y1="406.2" x2="183.3" y2="406.2" stroke="#1e1e1e" stroke-width="1.1"/>
<line x1="94.2" y1="399.3" x2="94.2" y2="412" stroke="#1e1e1e" stroke-width="1.0"/>
<line x1="119.4" y1="399.3" x2="119.4" y2="412" stroke="#1e1e1e" stroke-width="1.0"/>
<line x1="132.8" y1="399.3" x2="132.8" y2="412" stroke="#1e1e1e" stroke-width="1.0"/>
<line x1="146.2" y1="399.3" x2="146.2" y2="412" stroke="#1e1e1e" stroke-width="1.0"/>
<line x1="159.6" y1="399.3" x2="159.6" y2="412" stroke="#1e1e1e" stroke-width="1.0"/>
<line x1="181.8" y1="399.3" x2="181.8" y2="412" stroke="#1e1e1e" stroke-width="1.0"/>
<rect x="96" y="421.3" width="84" height="4.099999999999966" fill="#777" opacity="0.6"/>
<line x1="96" y1="423.35" x2="180" y2="423.35" stroke="#222" stroke-width="1.6" stroke-dasharray="5,1.5,2,1.5" opacity="0.8"/>
<rect x="177.5" y="426" width="3.0" height="59" fill="#777" opacity="0.6"/>
<line x1="179.0" y1="426" x2="179.0" y2="485" stroke="#222" stroke-width="1.5" stroke-dasharray="3,1.5,1,1.5" opacity="0.8"/>
<path d="M93.5,511.7 L93.5,420.3 L181.4,420.3 L181.4,487.8 L162.8,487.8 L162.8,471.1 L99.5,471.1 L99.5,429.2 L97,426.4 L99.5,426.4 L176.8,426.4 L176.8,485" stroke="#1e1e1e" stroke-width="1.3" fill="none"/>
<path d="M94.5,421 Q94.8,430 97.5,430.5 L99.5,429.2" stroke="#1e1e1e" stroke-width="1.2" fill="#aaa"/>
<rect x="95" y="432" width="4.5" height="18" fill="#999" opacity="0.5"/>
<path d="M165.5,487.8 L167.5,484 L175.8,484 L175.8,487.8" stroke="#1e1e1e" stroke-width="1.2" fill="none"/>
<circle cx="119.4" cy="431.6" r="4.2" stroke="#1e1e1e" stroke-width="1.4" fill="none"/>
<line x1="119.4" y1="412" x2="119.4" y2="439.4" stroke="#1e1e1e" stroke-width="1.0"/>
<line x1="113.4" y1="431.6" x2="125.4" y2="431.6" stroke="#1e1e1e" stroke-width="0.9"/>
<circle cx="132.7" cy="431.6" r="4.2" stroke="#1e1e1e" stroke-width="1.4" fill="none"/>
<line x1="132.7" y1="412" x2="132.7" y2="439.4" stroke="#1e1e1e" stroke-width="1.0"/>
<line x1="126.69999999999999" y1="431.6" x2="138.7" y2="431.6" stroke="#1e1e1e" stroke-width="0.9"/>
<circle cx="146.1" cy="431.6" r="4.2" stroke="#1e1e1e" stroke-width="1.4" fill="none"/>
<line x1="146.1" y1="412" x2="146.1" y2="439.4" stroke="#1e1e1e" stroke-width="1.0"/>
<line x1="140.1" y1="431.6" x2="152.1" y2="431.6" stroke="#1e1e1e" stroke-width="0.9"/>
<circle cx="159.6" cy="431.6" r="4.2" stroke="#1e1e1e" stroke-width="1.4" fill="none"/>
<line x1="159.6" y1="412" x2="159.6" y2="439.4" stroke="#1e1e1e" stroke-width="1.0"/>
<line x1="153.6" y1="431.6" x2="165.6" y2="431.6" stroke="#1e1e1e" stroke-width="0.9"/>
<rect x="108.8" y="441.3" width="15.9" height="8.4" fill="#777" opacity="0.45"/>
<rect x="108.8" y="441.3" width="15.9" height="8.4" stroke="#1e1e1e" stroke-width="1.5" fill="none"/>
<line x1="116.75" y1="441.3" x2="116.75" y2="449.7" stroke="#1e1e1e" stroke-width="1.2"/>
<line x1="110.8" y1="445.5" x2="122.7" y2="445.5" stroke="#eee" stroke-width="0.9" stroke-dasharray="3,1"/>
<rect x="158.2" y="446" width="15.8" height="7.8" fill="#777" opacity="0.45"/>
<rect x="158.2" y="446" width="15.8" height="7.8" stroke="#1e1e1e" stroke-width="1.5" fill="none"/>
<line x1="166.1" y1="446" x2="166.1" y2="453.8" stroke="#1e1e1e" stroke-width="1.2"/>
<line x1="160.2" y1="449.9" x2="172.0" y2="449.9" stroke="#eee" stroke-width="0.9" stroke-dasharray="3,1"/>
<text x="105.1" y="460.8" font-size="9.56" textLength="20.50" lengthAdjust="spacingAndGlyphs" font-weight="bold">ф 100</text>
<line x1="102.3" y1="461.8" x2="127.5" y2="461.8" stroke="#1e1e1e" stroke-width="1.0"/>
<line x1="127.5" y1="461.8" x2="156.3" y2="433" stroke="#1e1e1e" stroke-width="1.2"/>
<line x1="176.8" y1="420.8" x2="183" y2="412" stroke="#1e1e1e" stroke-width="1.0"/>
<line x1="36.7" y1="414.7" x2="36.7" y2="495" stroke="#1e1e1e" stroke-width="1.1"/>
<line x1="54.8" y1="414.7" x2="54.8" y2="477.5" stroke="#1e1e1e" stroke-width="1.1"/>
<line x1="30.9" y1="419.7" x2="87.8" y2="419.7" stroke="#1e1e1e" stroke-width="1.1"/>
<line x1="59.3" y1="444.5" x2="93" y2="444.5" stroke="#555" stroke-width="1.0" stroke-dasharray="12,3,2,3"/>
<line x1="32.5" y1="471.6" x2="69.4" y2="471.6" stroke="#1e1e1e" stroke-width="1.0"/>
<line x1="29.2" y1="489.2" x2="84.4" y2="489.2" stroke="#1e1e1e" stroke-width="1.1"/>
<text transform="translate(33.8,453.2) rotate(-90)" x="0" y="0" font-size="8.82" textLength="15.10" lengthAdjust="spacingAndGlyphs" font-weight="bold">600</text>
<text transform="translate(51.8,438.1) rotate(-90)" x="0" y="0" font-size="9.85" textLength="14.20" lengthAdjust="spacingAndGlyphs" font-weight="bold">290</text>
<text transform="translate(51.8,463.2) rotate(-90)" x="0" y="0" font-size="9.85" textLength="15.00" lengthAdjust="spacingAndGlyphs" font-weight="bold">310</text>
<text transform="translate(33.8,485.9) rotate(-90)" x="0" y="0" font-size="8.82" textLength="11.80" lengthAdjust="spacingAndGlyphs" font-weight="bold">190</text>
<line x1="75.2" y1="414.7" x2="75.2" y2="435.6" stroke="#1e1e1e" stroke-width="1.1"/>
<line x1="72.7" y1="428.1" x2="84.4" y2="428.1" stroke="#1e1e1e" stroke-width="1.0"/>
<line x1="75.2" y1="430.6" x2="84.4" y2="430.6" stroke="#1e1e1e" stroke-width="1.0"/>
<text transform="translate(73.2,439) rotate(-90)" x="0" y="0" font-size="8.09" textLength="8.40" lengthAdjust="spacingAndGlyphs" font-weight="bold">15</text>
<text transform="translate(75,429.8) rotate(-90)" x="0" y="0" font-size="7.06" textLength="10.10" lengthAdjust="spacingAndGlyphs" font-weight="bold">150</text>
<text x="82.8" y="439.8" font-size="9.85" textLength="6.70" lengthAdjust="spacingAndGlyphs" font-weight="bold">30</text>
<text x="95.6" y="450" font-size="11.76" textLength="3.70" lengthAdjust="spacingAndGlyphs" font-weight="bold">35</text>
<line x1="84" y1="440.5" x2="105" y2="440.5" stroke="#1e1e1e" stroke-width="1.0"/>
<line x1="80" y1="443.5" x2="105" y2="443.5" stroke="#555" stroke-width="1.0" stroke-dasharray="6,2,2,2"/>
<line x1="184" y1="420" x2="251.6" y2="420" stroke="#1e1e1e" stroke-width="1.1"/>
<line x1="180" y1="431.5" x2="197.7" y2="431.5" stroke="#1e1e1e" stroke-width="1.1"/>
<line x1="188.8" y1="441.3" x2="214.5" y2="441.3" stroke="#1e1e1e" stroke-width="1.1"/>
<line x1="181.8" y1="450.1" x2="194" y2="450.1" stroke="#1e1e1e" stroke-width="1.0"/>
<line x1="204.2" y1="450.1" x2="229.5" y2="450.1" stroke="#1e1e1e" stroke-width="1.0"/>
<line x1="188.8" y1="488.1" x2="251.6" y2="488.1" stroke="#1e1e1e" stroke-width="1.1"/>
<line x1="194.5" y1="413" x2="194.5" y2="436.8" stroke="#1e1e1e" stroke-width="1.1"/>
<line x1="209.2" y1="413" x2="209.2" y2="443.9" stroke="#1e1e1e" stroke-width="1.1"/>
<line x1="226.9" y1="413" x2="226.9" y2="493.4" stroke="#1e1e1e" stroke-width="1.1"/>
<line x1="247.2" y1="413" x2="247.2" y2="493.4" stroke="#1e1e1e" stroke-width="1.1"/>
<text transform="translate(194,429.8) rotate(-90)" x="0" y="0" font-size="8.82" textLength="9.80" lengthAdjust="spacingAndGlyphs" font-weight="bold">150</text>
<text transform="translate(208.3,436) rotate(-90)" x="0" y="0" font-size="10.44" textLength="14.20" lengthAdjust="spacingAndGlyphs" font-weight="bold">250</text>
<text transform="translate(224.2,441.3) rotate(-90)" x="0" y="0" font-size="9.12" textLength="16.00" lengthAdjust="spacingAndGlyphs" font-weight="bold">345</text>
<text transform="translate(224.2,476.6) rotate(-90)" x="0" y="0" font-size="9.12" textLength="17.60" lengthAdjust="spacing" font-weight="bold">445</text>
<text transform="translate(243.7,459.8) rotate(-90)" x="0" y="0" font-size="10.44" textLength="15.00" lengthAdjust="spacingAndGlyphs" font-weight="bold">790</text>
<text x="193.3" y="471.3" font-size="11.62" textLength="14.10" lengthAdjust="spacingAndGlyphs" font-weight="bold">П-2</text>
<line x1="188" y1="472.2" x2="208.3" y2="472.2" stroke="#1e1e1e" stroke-width="1.1"/>
<line x1="188" y1="472.2" x2="171.2" y2="453.4" stroke="#1e1e1e" stroke-width="1.1"/>
<text x="81.6" y="501.9" font-size="9.12" textLength="8.90" lengthAdjust="spacingAndGlyphs" font-weight="bold">75</text>
<text x="120.8" y="501.9" font-size="8.38" textLength="15.20" lengthAdjust="spacing" font-weight="bold">686</text>
<text x="166.3" y="501.9" font-size="9.12" textLength="12.50" lengthAdjust="spacingAndGlyphs" font-weight="bold">200</text>
<line x1="87.8" y1="503.4" x2="185.9" y2="503.4" stroke="#1e1e1e" stroke-width="1.1"/>
<line x1="98.5" y1="492" x2="98.5" y2="519.8" stroke="#1e1e1e" stroke-width="1.1"/>
<line x1="162.7" y1="487.8" x2="162.7" y2="510" stroke="#1e1e1e" stroke-width="1.1"/>
<line x1="181.5" y1="487.8" x2="181.5" y2="522.6" stroke="#1e1e1e" stroke-width="1.1"/>
<text x="128" y="515.3" font-size="10.44" textLength="16.00" lengthAdjust="spacingAndGlyphs" font-weight="bold">885</text>
<line x1="96.7" y1="518" x2="183.2" y2="518" stroke="#1e1e1e" stroke-width="1.1"/>
<text x="124.4" y="530.5" font-size="13.09" textLength="30.30" lengthAdjust="spacingAndGlyphs" font-weight="bold">По 1-1</text>
<text x="3" y="516" font-size="14.26" textLength="31.20" lengthAdjust="spacingAndGlyphs" font-weight="bold">НБУ-9</text>
<text x="39.6" y="516" font-size="14.26" textLength="42.10" lengthAdjust="spacingAndGlyphs" font-weight="bold">8.22.6-4</text>
<line x1="39.4" y1="503.4" x2="35.6" y2="518.2" stroke="#1e1e1e" stroke-width="1.5"/>
</svg></body></html>
